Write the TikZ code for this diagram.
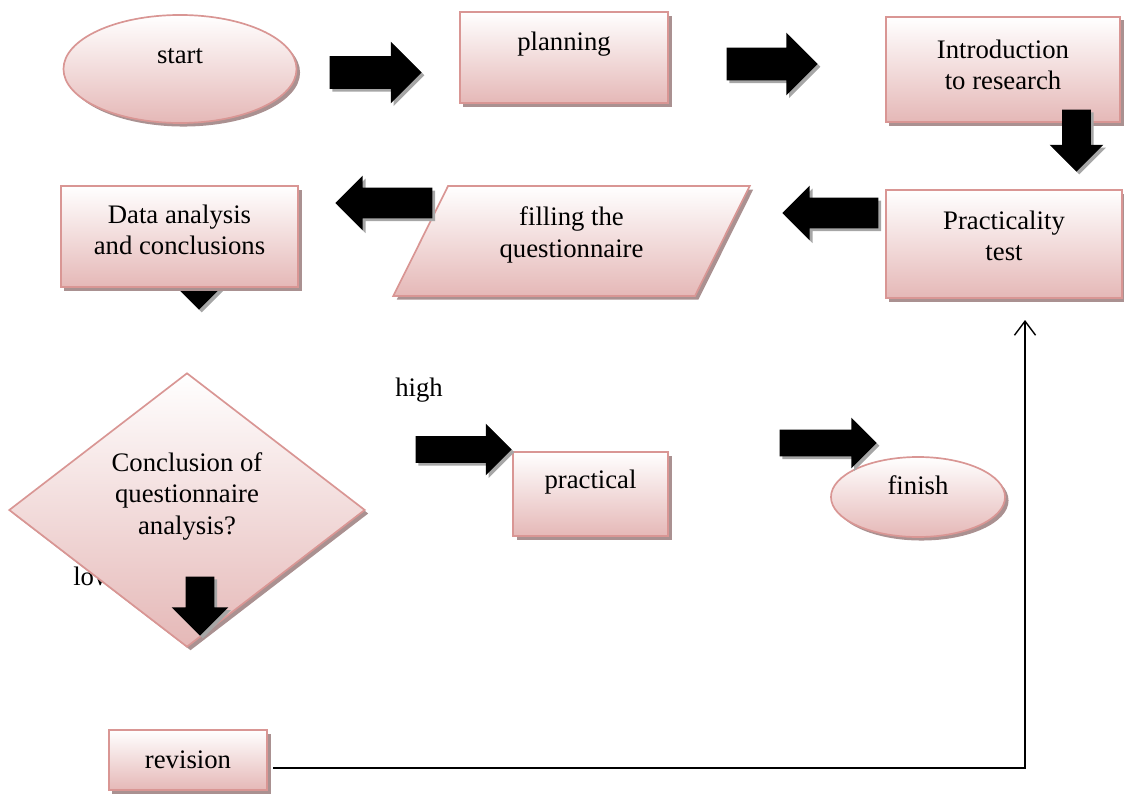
\documentclass[tikz,border=0pt]{standalone}
\usepackage{fontspec}
\setmainfont{Liberation Serif}
\usepackage{xcolor}
\usepackage{tikz}
\usetikzlibrary{shapes.geometric, shapes.arrows, shadows, arrows.meta}

\definecolor{boxedge}{RGB}{217,150,148}
\definecolor{boxpink}{RGB}{229,184,183}
\definecolor{boxshade}{RGB}{170,145,145}

\tikzset{
  flowbox/.style={draw=boxedge, line width=1.2pt, top color=white, bottom color=boxpink,
    align=center, inner sep=2pt,
    drop shadow={shadow xshift=2.5pt, shadow yshift=-2.5pt, fill=boxshade, opacity=1}},
  blockarrow/.style n args={3}{single arrow, fill=black, draw=none, anchor=tip,
    inner xsep=0pt, minimum height=#1, inner ysep=#2, single arrow head extend=#3,
    drop shadow={shadow xshift=2pt, shadow yshift=-2pt, fill=gray!70, opacity=1}},
  downarrow/.style n args={3}{blockarrow={#1}{0pt}{#3}, inner xsep=#2, shape border rotate=270},
  textpos/.style 2 args={text height=#1, text depth=#2}
}

\begin{document}
\begin{tikzpicture}[x=0.025cm, y=-0.025cm, font=\fontsize{19pt}{22.5pt}\selectfont]
    \useasboundingbox (0,0) rectangle (1124,794);

    % texts lying under the shapes
    \node[anchor=base west, inner sep=0pt] (low) at (73,585) {low};
    \node[anchor=base west, inner sep=0pt] (high) at (395,396) {high};
    \node[downarrow={1.5cm}{0.3cm}{0.275cm}] (a6) at (199,310) {};

    % boxes
    \node[flowbox, ellipse, minimum width=5.825cm, minimum height=2.7cm, textpos={14pt}{22pt}] (start) at (180,69) {start};
    \node[flowbox, rectangle, minimum width=5.2cm, minimum height=2.275cm, textpos={14pt}{24pt}] (plan) at (564,57.5) {planning};
    \node[flowbox, rectangle, minimum width=5.85cm, minimum height=2.625cm, textpos={36pt}{7pt}] (intro) at (1003,69.5) {Introduction\\to research};
    \node[flowbox, rectangle, minimum width=5.9cm, minimum height=2.7cm, textpos={36pt}{12pt}] (test) at (1004,244) {Practicality\\test};
    \node[flowbox, trapezium, trapezium left angle=66, trapezium right angle=114, trapezium stretches=true,
      minimum width=8.925cm, minimum height=2.75cm, textpos={36pt}{13pt}] (fill) at (571.5,241) {filling the\\questionnaire};
    \node[flowbox, rectangle, minimum width=5.925cm, minimum height=2.525cm, textpos={36pt}{10pt}] (data) at (179.5,236.5) {Data analysis\\and conclusions};
    \node[flowbox, diamond, minimum width=8.9cm, minimum height=6.85cm, textpos={44pt}{9pt}] (check) at (187,510) {Conclusion of\\questionnaire\\analysis?};
    \node[flowbox, rectangle, minimum width=3.875cm, minimum height=2.1cm, textpos={14pt}{22pt}] (prac) at (590.5,494) {practical};
    \node[flowbox, ellipse, minimum width=4.35cm, minimum height=2cm, textpos={14pt}{17pt}] (finish) at (918,497) {finish};
    \node[flowbox, rectangle, minimum width=3.95cm, minimum height=1.5cm] (rev) at (188,760) {revision};

    % block arrows, placed by their tips
    \node[blockarrow={2.3cm}{0.4cm}{0.3625cm}] (a1) at (422,72.5) {};
    \node[blockarrow={2.275cm}{0.4cm}{0.375cm}] (a2) at (818,64) {};
    \node[downarrow={1.55cm}{0.35cm}{0.3125cm}] (a3) at (1076.5,172) {};
    \node[blockarrow={2.4cm}{0.375cm}{0.3cm}, shape border rotate=180] (a4) at (782,213) {};
    \node[blockarrow={2.425cm}{0.375cm}{0.3cm}, shape border rotate=180] (a5) at (335,203) {};
    \node[blockarrow={2.4cm}{0.325cm}{0.3125cm}] (a7) at (512,449.5) {};
    \node[blockarrow={2.425cm}{0.325cm}{0.3cm}] (a8) at (877,443) {};
    \node[downarrow={1.475cm}{0.35cm}{0.35cm}] (a9) at (200,636) {};

    % way back from revision
    \coordinate (turn) at (1025,768);
    \coordinate (tip) at (1025,320);
    \draw[line width=1pt, -{Straight Barb[length=10pt, width=15pt]}] ([xshift=4pt]rev.east |- turn) -- (turn) -- (tip);
\end{tikzpicture}
\end{document}
